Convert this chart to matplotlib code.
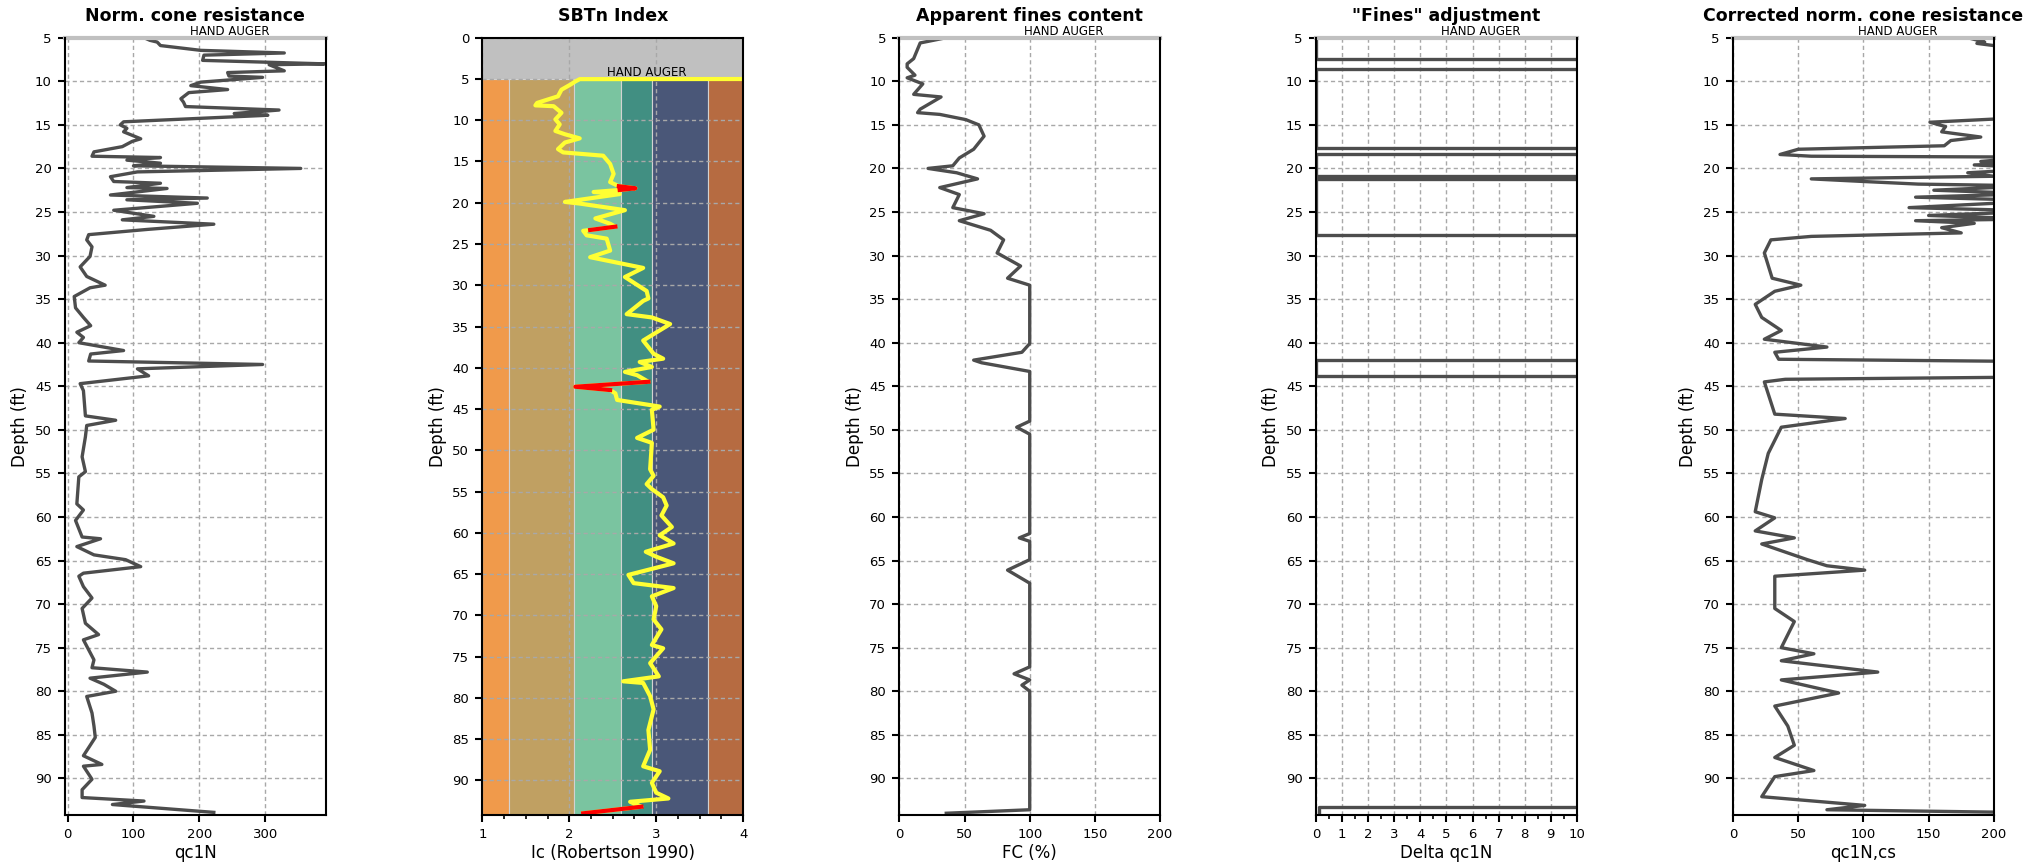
import matplotlib
matplotlib.use('Agg')
import matplotlib.pyplot as plt
import matplotlib.transforms as mtransforms
import numpy as np
from matplotlib.ticker import MultipleLocator

# ---- Norm. cone resistance (qc1N) ----
qc_depth = [5.0, 5.3, 5.5, 5.9, 6.45, 6.75, 7.0, 7.6, 8.0, 8.1, 8.8, 9.0, 9.4, 9.55,
            10.1, 10.5, 10.95, 11.3, 12.0, 12.4, 12.9, 13.3, 13.7, 13.9, 14.65, 15.0,
            15.4, 15.8, 16.6, 16.9, 17.5, 18.1, 18.6, 18.75, 19.05, 19.4, 19.7, 20.0,
            20.4, 20.95, 21.5, 21.7, 22.2, 22.3, 23.05, 23.4, 23.6, 24.0, 24.8, 25.5,
            25.9, 26.4, 27.0, 27.6, 28.2, 29.0, 30.1, 31.3, 32.4, 33.4, 33.7, 34.7,
            36.0, 37.1, 38.05, 38.8, 39.4, 40.0, 40.9, 41.3, 42.1, 42.5, 43.0, 43.8,
            44.7, 45.5, 48.4, 48.9, 49.5, 50.8, 53.1, 54.8, 55.4, 58.5, 59.2, 60.4,
            62.3, 62.5, 63.4, 64.35, 64.9, 65.7, 66.45, 66.8, 68.0, 69.3, 70.5, 72.2,
            73.5, 74.1, 76.4, 77.3, 77.8, 78.5, 79.2, 80.0, 80.6, 82.5, 84.0, 85.3,
            87.4, 88.4, 88.6, 90.1, 91.3, 92.2, 92.6, 93.0, 93.9]
qc_val = [116, 125, 136, 141, 202, 329, 207, 205, 390, 306, 329, 243, 245, 296,
          202, 187, 243, 184, 172, 176, 179, 321, 253, 304, 85, 80,
          90, 85, 111, 98, 83, 40, 37, 141, 90, 141, 100, 354,
          106, 65, 70, 141, 90, 151, 65, 212, 90, 197, 70, 131,
          83, 222, 121, 32, 29, 37, 34, 19, 29, 57, 34, 10,
          12, 24, 35, 14, 24, 17, 85, 35, 32, 296, 106, 123,
          19, 24, 27, 73, 29, 27, 22, 27, 17, 14, 24, 12,
          22, 50, 14, 40, 88, 111, 24, 17, 24, 37, 22, 27,
          47, 24, 40, 37, 121, 34, 55, 73, 29, 37, 40, 42,
          24, 52, 24, 37, 22, 22, 116, 68, 222]

# ---- SBTn index (Ic) ----
ic_depth = [5.0, 5.02, 5.3, 5.7, 6.3, 7.1, 7.9, 8.2, 8.3, 9.1, 9.9, 10.5, 11.3, 11.7,
            12.2, 12.7, 13.5, 13.9, 14.3, 15.3, 16.5, 17.5, 18.0, 18.25, 18.45, 18.7,
            18.95, 19.9, 20.1, 20.9, 21.9, 22.55, 22.9, 23.3, 23.4, 23.95, 24.35, 25.8,
            26.6, 27.9, 29.0, 30.7, 31.6, 31.9, 33.5, 33.9, 34.7, 36.7, 38.3, 38.9,
            39.3, 39.9, 40.5, 40.9, 41.7, 42.3, 42.7, 43.1, 43.9, 44.7, 45.1, 47.5,
            48.5, 49.1, 52.3, 53.1, 54.1, 54.7, 55.7, 56.7, 57.9, 59.3, 60.3, 61.3,
            62.3, 62.9, 63.7, 65.1, 66.1, 66.7, 67.7, 68.9, 70.5, 71.7, 73.6, 74.0,
            75.8, 77.4, 78.0, 78.2, 79.8, 81.4, 83.9, 86.3, 88.3, 88.9, 90.3, 91.5,
            92.2, 92.6, 93.2, 94.0]
ic_val = [4.5, 2.12, 2.07, 2.01, 1.91, 1.87, 1.63, 1.61, 1.82, 1.91, 1.84, 1.89, 1.84, 1.95,
          2.12, 1.95, 1.87, 1.93, 2.39, 2.47, 2.51, 2.47, 2.57, 2.76, 2.58, 2.28,
          2.58, 1.95, 2.12, 2.64, 2.30, 2.47, 2.53, 2.24, 2.16, 2.20, 2.43, 2.47,
          2.24, 2.85, 2.64, 2.89, 2.91, 2.85, 2.66, 2.95, 3.16, 2.85, 2.97, 3.08,
          2.81, 2.95, 2.64, 2.78, 2.91, 2.07, 2.47, 2.53, 2.55, 3.04, 2.95, 2.97,
          2.78, 2.95, 2.93, 2.97, 2.89, 2.95, 3.08, 3.12, 3.06, 3.18, 3.04, 3.20,
          2.88, 3.00, 3.20, 2.68, 2.74, 3.20, 2.95, 3.00, 2.97, 3.06, 2.95, 3.08,
          2.93, 3.03, 2.62, 2.85, 2.93, 2.97, 2.91, 2.93, 2.85, 3.04, 2.95, 3.00,
          3.14, 2.70, 2.83, 2.16]
red_ranges = [(18.0, 18.45), (22.9, 23.3), (41.7, 42.7), (93.2, 94.0)]

zone_edges = [1.0, 1.31, 2.05, 2.60, 2.95, 3.60, 4.0]
zone_colors = ['#f09a4b', '#c0a062', '#7ac4a0', '#418f82', '#4a5778', '#b66b41']

# ---- Apparent fines content ----
fc_depth = [5.0, 5.6, 7.4, 8.0, 8.4, 9.3, 9.6, 10.3, 11.5, 11.8, 13.2, 13.6, 13.8, 14.4,
            15.0, 16.3, 17.8, 18.8, 19.7, 20.0, 20.5, 21.2, 22.2, 23.0, 24.5, 25.2,
            26.0, 27.1, 28.2, 29.7, 31.2, 32.6, 33.4, 40.1, 41.1, 42.0, 42.3, 43.3,
            49.0, 49.7, 50.5, 61.9, 62.4, 62.8, 64.9, 66.1, 67.6, 77.2, 78.0, 78.7,
            79.3, 80.0, 93.6, 94.0]
fc_val = [36, 16, 11, 6, 6, 12, 6, 18, 11, 32, 16, 14, 31, 51,
          61, 65, 57, 46, 41, 22, 44, 60, 31, 46, 41, 65,
          46, 70, 80, 75, 93, 83, 100, 100, 94, 57, 63, 100,
          100, 90, 100, 100, 92, 100, 100, 83, 100, 100, 88, 100,
          94, 100, 100, 36]

# ---- "Fines" adjustment ----
dq_depth = [5.0, 7.5, 7.5, 8.6, 8.6, 17.6, 17.6, 18.4, 18.4, 20.9, 20.9, 21.2, 21.2,
            27.6, 27.6, 42.0, 42.0, 43.8, 43.8, 93.3, 93.3, 94.0]
dq_val = [0, 0, 60, 60, 0, 0, 60, 60, 0, 0, 60, 60, 0,
          0, 60, 60, 0, 0, 60, 60, 0.1, 0.1]

# ---- Corrected norm. cone resistance (qc1N,cs) ----
cs_depth = [5.0, 5.5, 5.65, 6.0, 6.3, 14.0, 14.3, 14.7, 15.2, 15.8, 16.4, 16.8, 17.4,
            17.8, 18.4, 18.6, 18.7, 19.2, 19.4, 19.6, 20.0, 20.5, 20.9, 21.2, 21.5,
            21.8, 22.0, 22.5, 22.9, 23.3, 23.7, 24.5, 24.9, 25.4, 25.8, 26.0, 26.3,
            26.8, 27.4, 27.8, 28.2, 29.7, 32.6, 33.4, 34.1, 35.6, 37.1, 38.6, 39.6,
            40.5, 41.1, 41.9, 42.2, 43.9, 44.2, 44.5, 48.2, 48.7, 49.7, 52.7, 55.7,
            59.4, 60.1, 61.6, 62.4, 63.1, 64.9, 65.6, 66.1, 66.8, 70.5, 72.0, 75.0,
            75.7, 76.5, 77.8, 78.7, 80.2, 81.7, 84.0, 86.2, 87.6, 89.1, 89.8, 92.1,
            93.1, 93.6, 94.0]
cs_val = [180, 193, 187, 205, 260, 260, 205, 151, 163, 160, 190, 167, 162,
          50, 36, 60, 230, 190, 230, 185, 240, 180, 200, 60, 100,
          142, 230, 154, 230, 140, 240, 135, 240, 150, 230, 140, 185,
          160, 175, 60, 29, 24, 30, 52, 32, 17, 22, 37, 24,
          72, 32, 35, 260, 260, 40, 24, 32, 86, 37, 27, 22,
          17, 32, 17, 47, 22, 57, 72, 101, 32, 32, 47, 37,
          62, 37, 111, 37, 81, 32, 42, 47, 32, 62, 32, 22,
          101, 72, 260]

plt.rcParams['font.family'] = 'DejaVu Sans'

fig = plt.figure(figsize=(20.31, 8.67), dpi=100)
lefts = [0.032, 0.2375, 0.4428, 0.648, 0.8533]
axes = [fig.add_axes([l, 0.06, 0.1284, 0.8965]) for l in lefts]

line_col = '#4d4d4d'
grid_col = '#a8a8a8'
band_col = '#c0c0c0'


def style(ax, title, xlabel, top):
    ax.set_ylim(94.2, top)
    ax.set_yticks(np.arange(top, 91, 5))
    ax.set_title(title, fontweight='bold', fontsize=12.5, pad=12)
    ax.set_xlabel(xlabel, fontsize=12, labelpad=2)
    ax.set_ylabel('Depth (ft)', fontsize=12)
    ax.grid(True, ls=(0, (3, 2.2)), color=grid_col, lw=1)
    ax.tick_params(which='major', labelsize=9.5, length=5, width=1.5, pad=4.5)
    ax.tick_params(which='minor', length=3, width=1.2)
    for s in ax.spines.values():
        s.set_linewidth(1.5)
        s.set_zorder(5)
    trans = mtransforms.blended_transform_factory(ax.transAxes, ax.transData)
    ax.text(0.63, 5, 'HAND AUGER', transform=trans, ha='center', va='bottom',
            fontsize=8.5, clip_on=False)
    if top == 5:
        ax.spines['top'].set_visible(False)
        ax.axhline(5, color=band_col, lw=3, clip_on=False, zorder=3)


# panel 1
ax = axes[0]
ax.plot(qc_val, qc_depth, color=line_col, lw=2.4)
ax.set_xlim(-4, 392)
ax.set_xticks([0, 100, 200, 300])
style(ax, 'Norm. cone resistance', 'qc1N', 5)

# panel 2
ax = axes[1]
ax.axhspan(0, 5, color=band_col, zorder=0.5, lw=0)
for x0, x1, c in zip(zone_edges[:-1], zone_edges[1:], zone_colors):
    ax.fill_betweenx([5, 100], x0, x1, facecolor=c, edgecolor='#d2d2d2', lw=0.8, zorder=0.5)
ic_d = np.array(ic_depth)
ic_v = np.array(ic_val)
ax.plot(ic_v, ic_d, color='#ffff33', lw=3, zorder=3)
for d0, d1 in red_ranges:
    m = (ic_d >= d0) & (ic_d <= d1)
    ax.plot(ic_v[m], ic_d[m], color='#ff0000', lw=3, zorder=4)
ax.set_xlim(1, 4)
ax.set_xticks([1, 2, 3, 4])
ax.xaxis.set_minor_locator(MultipleLocator(0.25))
style(ax, 'SBTn Index', 'Ic (Robertson 1990)', 0)

# panel 3
ax = axes[2]
ax.plot(fc_val, fc_depth, color=line_col, lw=2.4)
ax.set_xlim(0, 200)
ax.set_xticks([0, 50, 100, 150, 200])
style(ax, 'Apparent fines content', 'FC (%)', 5)

# panel 4
ax = axes[3]
ax.plot(dq_val, dq_depth, color=line_col, lw=2.4)
ax.set_xlim(0, 10)
ax.set_xticks(range(0, 11))
ax.xaxis.set_minor_locator(MultipleLocator(0.5))
style(ax, '"Fines" adjustment', 'Delta qc1N', 5)

# panel 5
ax = axes[4]
ax.plot(cs_val, cs_depth, color=line_col, lw=2.4)
ax.set_xlim(0, 200)
ax.set_xticks([0, 50, 100, 150, 200])
style(ax, 'Corrected norm. cone resistance', 'qc1N,cs', 5)

fig.savefig('out.png', dpi=100)
